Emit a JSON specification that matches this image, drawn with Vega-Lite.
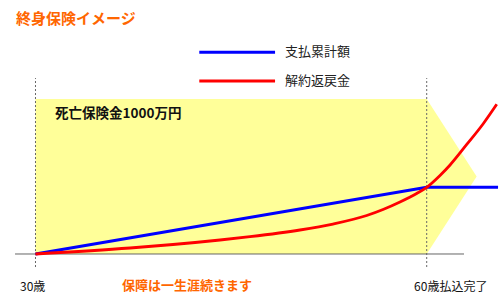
{
  "$schema": "https://vega.github.io/schema/vega-lite/v6.json",
  "width": 500,
  "height": 276,
  "autosize": "none",
  "padding": {"top": 30, "left": 0, "right": 0, "bottom": 0},
  "background": "white",
  "title": {
    "text": "終身保険イメージ",
    "anchor": "start",
    "frame": "group",
    "dx": 16,
    "offset": 3,
    "fontSize": 15,
    "fontWeight": "bold",
    "color": "#FF6600",
    "font": "Noto Sans CJK JP"
  },
  "config": {
    "view": {"stroke": null},
    "font": "Noto Sans CJK JP"
  },
  "datasets": {
    "coverage": [
      {"age": 30, "top": 1000, "bottom": 0},
      {"age": 60, "top": 1000, "bottom": 0},
      {"age": 63.83, "top": 500, "bottom": 500}
    ],
    "baseline": [
      {"start": 28.43, "end": 62.86, "value": 0}
    ],
    "markers": [
      {"age": 30, "low": -84, "high": 1135},
      {"age": 60, "low": -84, "high": 1135}
    ],
    "legendKeys": [
      {"series": "支払累計額", "start": 42.56, "end": 48.37, "labelAge": 49.13, "value": 1301},
      {"series": "解約返戻金", "start": 42.56, "end": 48.37, "labelAge": 49.13, "value": 1116}
    ],
    "paid": [
      {"series": "支払累計額", "age": 30, "value": 0},
      {"series": "支払累計額", "age": 60, "value": 430},
      {"series": "支払累計額", "age": 65.47, "value": 430}
    ],
    "surrender": [
      {"series": "解約返戻金", "age": 30, "value": 0},
      {"series": "解約返戻金", "age": 37.25, "value": 38.7},
      {"series": "解約返戻金", "age": 44.15, "value": 90.3},
      {"series": "解約返戻金", "age": 46.45, "value": 111.6},
      {"series": "解約返戻金", "age": 50.28, "value": 154.8},
      {"series": "解約返戻金", "age": 52.81, "value": 193.5},
      {"series": "解約返戻金", "age": 55.4, "value": 248.4},
      {"series": "解約返戻金", "age": 56.65, "value": 287.1},
      {"series": "解約返戻金", "age": 57.95, "value": 335.5},
      {"series": "解約返戻金", "age": 59.23, "value": 390.3},
      {"series": "解約返戻金", "age": 60, "value": 430},
      {"series": "解約返戻金", "age": 61.02, "value": 506.5},
      {"series": "解約返戻金", "age": 61.79, "value": 574.2},
      {"series": "解約返戻金", "age": 63.07, "value": 706.5},
      {"series": "解約返戻金", "age": 64.32, "value": 838.7},
      {"series": "解約返戻金", "age": 65.37, "value": 965.8}
    ],
    "benefitLabel": [
      {"label": "死亡保険金1000万円", "age": 31.5, "value": 903}
    ],
    "ageLabels": [
      {"label": "30歳", "age": 28.81, "value": -211},
      {"label": "60歳払込完了", "age": 59.03, "value": -211}
    ],
    "orangeLabels": [
      {"label": "保障は一生涯続きます", "age": 36.63, "value": -208}
    ]
  },
  "layer": [
    {
      "data": {"name": "coverage"},
      "mark": {"type": "area", "color": "#FFFF99", "opacity": 1, "interpolate": "linear"},
      "encoding": {
        "x": {"field": "age", "type": "quantitative", "scale": {"domain": [27.278, 65.62], "nice": false, "zero": false}, "axis": null},
        "y": {"field": "top", "type": "quantitative", "scale": {"domain": [-335.5, 1445.2], "nice": false, "zero": false}, "axis": null},
        "y2": {"field": "bottom"}
      }
    },
    {
      "data": {"name": "baseline"},
      "mark": {"type": "rule", "color": "#666666", "strokeWidth": 1},
      "encoding": {
        "x": {"field": "start", "type": "quantitative"},
        "x2": {"field": "end"},
        "y": {"field": "value", "type": "quantitative"}
      }
    },
    {
      "data": {"name": "markers"},
      "mark": {"type": "rule", "color": "#666666", "strokeWidth": 1, "strokeDash": [2, 2]},
      "encoding": {
        "x": {"field": "age", "type": "quantitative"},
        "y": {"field": "low", "type": "quantitative"},
        "y2": {"field": "high"}
      }
    },
    {
      "data": {"name": "legendKeys"},
      "mark": {"type": "rule", "strokeWidth": 3},
      "encoding": {
        "x": {"field": "start", "type": "quantitative"},
        "x2": {"field": "end"},
        "y": {"field": "value", "type": "quantitative"},
        "color": {
          "field": "series",
          "type": "nominal",
          "scale": {"domain": ["支払累計額", "解約返戻金"], "range": ["#0000FF", "#FF0000"]},
          "legend": null
        }
      }
    },
    {
      "data": {"name": "legendKeys"},
      "mark": {"type": "text", "align": "left", "baseline": "middle", "fontSize": 13, "color": "#222222", "font": "Noto Sans CJK JP"},
      "encoding": {
        "x": {"field": "labelAge", "type": "quantitative"},
        "y": {"field": "value", "type": "quantitative"},
        "text": {"field": "series"}
      }
    },
    {
      "data": {"name": "paid"},
      "mark": {"type": "line", "strokeWidth": 3, "interpolate": "linear"},
      "encoding": {
        "x": {"field": "age", "type": "quantitative"},
        "y": {"field": "value", "type": "quantitative"},
        "color": {"field": "series", "type": "nominal", "legend": null}
      }
    },
    {
      "data": {"name": "surrender"},
      "mark": {"type": "line", "strokeWidth": 2.8, "interpolate": "monotone"},
      "encoding": {
        "x": {"field": "age", "type": "quantitative"},
        "y": {"field": "value", "type": "quantitative"},
        "color": {"field": "series", "type": "nominal", "legend": null}
      }
    },
    {
      "data": {"name": "benefitLabel"},
      "mark": {"type": "text", "align": "left", "baseline": "middle", "fontSize": 13.5, "fontWeight": "bold", "color": "#111111", "font": "Noto Sans CJK JP"},
      "encoding": {
        "x": {"field": "age", "type": "quantitative"},
        "y": {"field": "value", "type": "quantitative"},
        "text": {"field": "label"}
      }
    },
    {
      "data": {"name": "ageLabels"},
      "mark": {"type": "text", "align": "left", "baseline": "middle", "fontSize": 12, "color": "#111111", "font": "Noto Sans CJK JP"},
      "encoding": {
        "x": {"field": "age", "type": "quantitative"},
        "y": {"field": "value", "type": "quantitative"},
        "text": {"field": "label"}
      }
    },
    {
      "data": {"name": "orangeLabels"},
      "mark": {"type": "text", "align": "left", "baseline": "middle", "fontSize": 13, "fontWeight": "bold", "color": "#FF6600", "font": "Noto Sans CJK JP"},
      "encoding": {
        "x": {"field": "age", "type": "quantitative"},
        "y": {"field": "value", "type": "quantitative"},
        "text": {"field": "label"}
      }
    }
  ]
}
